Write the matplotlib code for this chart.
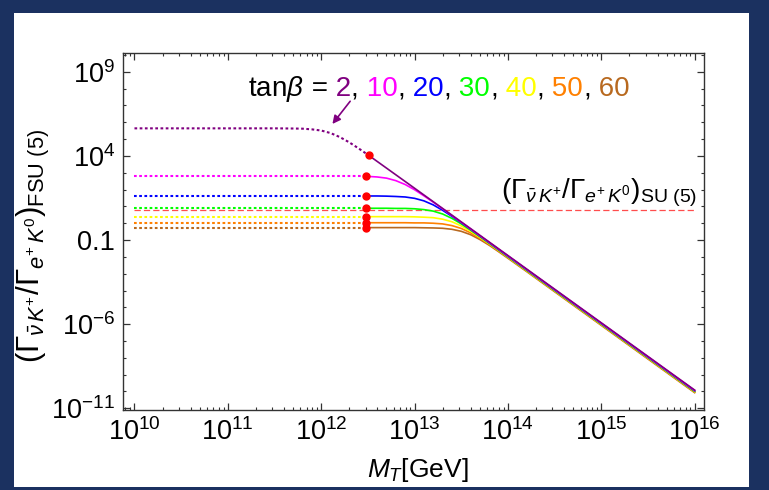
import matplotlib
matplotlib.use("Agg")
import matplotlib.pyplot as plt
import numpy as np
from matplotlib.patches import Rectangle
from matplotlib.offsetbox import TextArea, HPacker, AnnotationBbox
from matplotlib.ticker import FixedLocator, FixedFormatter, LogLocator, NullFormatter

plt.rcParams["font.family"] = ["Liberation Sans", "DejaVu Sans"]
plt.rcParams["mathtext.fontset"] = "custom"
plt.rcParams["mathtext.rm"] = "Liberation Sans"
plt.rcParams["mathtext.it"] = "Liberation Sans:italic"
plt.rcParams["mathtext.bf"] = "Liberation Sans:bold"

# data (log10 values)
tanb = ["2", "10", "20", "30", "40", "50", "60"]

# low-M dotted part: tan(beta)=2 bends, the others stay flat
logM_dot2 = [10.0, 11.0, 11.5, 11.7, 11.8, 11.9, 12.0, 12.1, 12.2, 12.3, 12.4, 12.51]
ratio_dot2 = [5.64, 5.64, 5.64, 5.63, 5.62, 5.58, 5.51, 5.36, 5.12, 4.81, 4.45, 4.03]
logM_dot = [10.0, 12.48]
flat_levels = [2.81, 1.62, 0.89, 0.39, 0.03, -0.26]   # tanb = 10 ... 60

# solid part
logM_sol2 = [12.51, 13.0, 14.0, 15.0, 16.0]
ratio_sol2 = [4.03, 2.08, -1.92, -5.92, -9.92]

logM_sol = [12.48, 12.6, 12.7, 12.8, 12.9, 13.0, 13.1, 13.2, 13.3, 13.4,
            13.5, 13.6, 13.7, 13.8, 13.9, 14.0, 14.2, 15.0, 16.0]
ratio_10 = [2.79, 2.75, 2.68, 2.53, 2.30, 1.99, 1.63, 1.25, 0.86, 0.46,
            0.06, -0.34, -0.74, -1.14, -1.54, -1.94, -2.74, -5.94, -9.94]
ratio_20 = [1.62, 1.62, 1.61, 1.59, 1.56, 1.48, 1.33, 1.09, 0.77, 0.41,
            0.03, -0.36, -0.76, -1.16, -1.56, -1.96, -2.76, -5.96, -9.96]
ratio_30 = [0.89, 0.89, 0.89, 0.88, 0.88, 0.86, 0.81, 0.72, 0.55, 0.29,
            -0.04, -0.41, -0.80, -1.19, -1.59, -1.99, -2.79, -5.99, -9.99]
ratio_40 = [0.39, 0.39, 0.39, 0.39, 0.39, 0.38, 0.36, 0.33, 0.24, 0.09,
            -0.16, -0.47, -0.84, -1.22, -1.61, -2.01, -2.81, -6.01, -10.01]
ratio_50 = [0.03, 0.03, 0.03, 0.03, 0.03, 0.02, 0.02, 0.00, -0.04, -0.14,
            -0.31, -0.57, -0.90, -1.26, -1.65, -2.04, -2.84, -6.04, -10.04]
ratio_60 = [-0.26, -0.26, -0.26, -0.26, -0.26, -0.26, -0.27, -0.28, -0.30, -0.36,
            -0.48, -0.68, -0.97, -1.31, -1.69, -2.08, -2.87, -6.07, -10.07]

su5_level = 0.80
logM_su5 = [10.0, 16.0]

x_majors = [1e10, 1e11, 1e12, 1e13, 1e14, 1e15, 1e16]
y_majors = [1e-11, 1e-6, 1e-1, 1e4, 1e9]
y_labels = [r"$\mathdefault{10^{-11}}$", r"$\mathdefault{10^{-6}}$", "0.1",
            r"$\mathdefault{10^{4}}$", r"$\mathdefault{10^{9}}$"]

colors = ["#800080", "#ff00ff", "#0000ff", "#00ff00", "#ffff00", "#ff8000", "#b8691f"]

fig = plt.figure(figsize=(7.69, 4.90), dpi=100)
fig.patch.set_facecolor("#1b3160")
fig.patches.append(Rectangle((14 / 769, 3 / 490), 735 / 769, 474 / 490,
                             transform=fig.transFigure, facecolor="white",
                             edgecolor="none", zorder=-10))
ax = fig.add_axes([0.1603, 0.1633, 0.7552, 0.7279])
ax.set_facecolor("white")
ax.set_xscale("log")
ax.set_yscale("log")

dots = (0, (1.3, 1.2))
p10 = lambda a: 10.0 ** np.array(a)

# dotted parts
ax.plot(p10(logM_dot2), p10(ratio_dot2), color=colors[0], lw=1.5, ls=dots)
for lev, c in zip(flat_levels, colors[1:]):
    ax.plot(p10(logM_dot), p10([lev, lev]), color=c, lw=1.5, ls=dots)

# SU(5) reference
ax.plot(p10(logM_su5), p10([su5_level, su5_level]), color="#ff4d4d", lw=0.9,
        ls=(0, (5, 2.5)))

# solid parts
sol = [ratio_10, ratio_20, ratio_30, ratio_40, ratio_50, ratio_60]
for r, c in zip(sol[::-1], colors[1:][::-1]):
    ax.plot(p10(logM_sol), p10(r), color=c, lw=1.2)
ax.plot(p10(logM_sol2), p10(ratio_sol2), color=colors[0], lw=1.2)

# matching points
ax.plot(p10([logM_sol2[0]] + [logM_sol[0]] * 6),
        p10([ratio_sol2[0]] + [r[0] for r in sol]),
        "o", color="red", ms=5, zorder=5, ls="none")

ax.set_xlim(10 ** 9.88, 10 ** 16.1)
ax.set_ylim(10 ** -11.1, 10 ** 10.1)

ax.xaxis.set_major_locator(FixedLocator(x_majors))
ax.xaxis.set_minor_locator(LogLocator(base=10, subs=np.arange(2, 10), numticks=20))
ax.xaxis.set_minor_formatter(NullFormatter())
ax.yaxis.set_major_locator(FixedLocator(y_majors))
ax.yaxis.set_major_formatter(FixedFormatter(y_labels))
ax.yaxis.set_minor_locator(LogLocator(base=10, subs=(1.0,), numticks=40))
ax.yaxis.set_minor_formatter(NullFormatter())
ax.tick_params(which="both", direction="in", top=True, right=True,
               labelsize=19.5, pad=6, color="#333333")
ax.tick_params(which="major", length=5, width=0.9)
ax.tick_params(which="minor", length=2.5, width=0.8)
for s in ax.spines.values():
    s.set_color("#333333")
    s.set_linewidth(1.0)

ax.set_xlabel(r"$M_T$[GeV]", fontsize=19)
ax.xaxis.set_label_coords(0.5075, -0.128)
ax.set_ylabel(r"$(\Gamma_{\bar{\nu}\,K^{+}}/\Gamma_{e^{+}\,K^{0}})_{\mathrm{FSU\ (5)}}$",
              fontsize=22.5)
ax.yaxis.set_label_coords(-0.122, 0.46)

ax.text(10 ** 16.03, 10 ** 1.8,
        r"$(\Gamma_{\bar{\nu}\,K^{+}}/\Gamma_{e^{+}\,K^{0}})_{\mathrm{SU\ (5)}}$",
        fontsize=20, ha="right", va="center")

# tan(beta) legend line with coloured values
fs_t = 20
parts = [TextArea(r"tan$\beta$", textprops=dict(fontsize=fs_t, color="black")),
         TextArea(" =", textprops=dict(fontsize=fs_t, color="black"))]
for i, (t, c) in enumerate(zip(tanb, colors)):
    if i > 0:
        parts.append(TextArea(",", textprops=dict(fontsize=fs_t, color="black")))
    parts.append(TextArea(" " + t, textprops=dict(fontsize=fs_t, color=c)))
pack = HPacker(children=parts, align="baseline", pad=0, sep=0)
ab = AnnotationBbox(pack, (248, 490 - 89), xycoords="figure pixels",
                    box_alignment=(0, 0.5), frameon=False, pad=0)
fig.add_artist(ab)

ax.annotate("", xy=(10 ** 12.12, 10 ** 5.9), xytext=(10 ** 12.31, 10 ** 7.25),
            arrowprops=dict(arrowstyle="-|>", color=colors[0], lw=1.2,
                            mutation_scale=12, shrinkA=0, shrinkB=0))

fig.savefig("out.png", dpi=100, facecolor=fig.get_facecolor())
